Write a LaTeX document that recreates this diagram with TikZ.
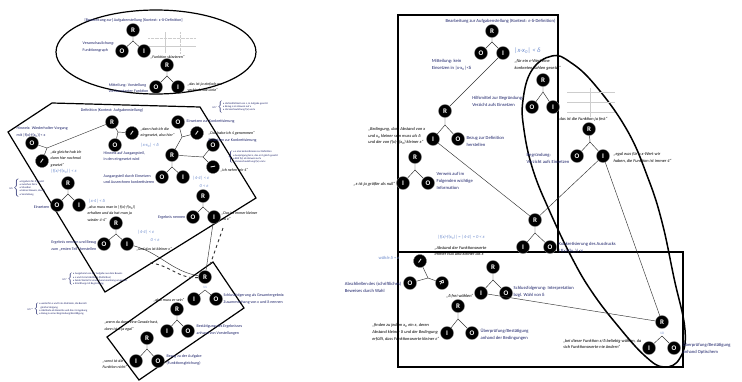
\documentclass[tikz,border=0pt]{standalone}
\usepackage{fontspec}
\setmainfont{Carlito}
\definecolor{navy}{RGB}{28,34,105}
\definecolor{hand}{RGB}{110,140,205}
\definecolor{faint}{RGB}{205,205,205}
\tikzset{
 cat/.style={circle, fill=black, draw=black!50, line width=0.3pt, inner sep=0pt, minimum size=13pt, text=white, font=\fontsize{7}{7}\selectfont\bfseries},
 conn/.style={draw=black!80, line width=0.45pt},
 frame/.style={draw=black, line width=1.5pt},
 lframe/.style={draw=black, line width=1.2pt},
 lab/.style={text=navy, font=\fontsize{4}{6.3}\selectfont, align=left, inner sep=0.5pt},
 labr/.style={text=navy, font=\fontsize{4.6}{7}\selectfont, align=left, inner sep=0.5pt},
 quo/.style={text=black, font=\fontsize{4}{6.3}\selectfont\itshape, align=left, inner sep=0.5pt},
 quor/.style={text=black, font=\fontsize{4.4}{6.8}\selectfont\itshape, align=left, inner sep=0.5pt},
 hw/.style={text=hand, font=\fontsize{4.5}{5.5}\selectfont\itshape, inner sep=0.5pt},
 minitext/.style={text=navy, font=\fontsize{2.6}{3.3}\selectfont, align=left, inner sep=0.3pt},
 num/.style={text=hand, font=\fontsize{3.5}{4}\selectfont, inner sep=0pt},
}
\begin{document}
\begin{tikzpicture}[x=1pt,y=-1pt]
\useasboundingbox (0,0) rectangle (742,381);
\fill[white] (0,0) rectangle (742,381);

% ---------- frames ----------
\draw[lframe] (156,52) ellipse [x radius=100, y radius=42];
\draw[lframe] (52,103) -- (200,107) -- (256,198) -- (105,292) -- (8,132) -- cycle;
\draw[lframe] (213,262) -- (244,308) -- (139,380) -- (107,337) -- cycle;
\draw[frame] (398,15) rectangle (558,252);
\draw[frame] (398,252) rectangle (683,367);
\draw[frame] plot[smooth cycle, tension=0.7] coordinates {(552,56) (570,62) (595,85) (627,130) (648,178) (662,222) (674,278) (685,330) (680,358) (664,367) (645,356) (618,326) (592,292) (572,258) (550,212) (533,170) (524,130) (523,100) (532,70)};

% ---------- faint graphs ----------
\begin{scope}[draw=faint, line width=0.3pt]
\draw (148,46) -- (196,46);
\draw (165,32) -- (165,53);
\draw[densely dotted] (148,38) -- (196,38);
\draw[densely dotted] (180,32) -- (180,53);
\draw (567,92) -- (615,92);
\draw (567,102) -- (615,102);
\draw (567,112) -- (615,112);
\draw (590,88) -- (590,117);
\end{scope}

% ---------- left trees ----------
\node[cat] (aR) at (133,30) {R};
\coordinate (aj) at (133,41);
\node[cat] (aO) at (122,51) {O};
\node[cat] (aI) at (144,51) {I};
\draw[conn] (aR) -- (aj) (aj) -- (aO) (aj) -- (aI);

\node[cat] (bR) at (167,65) {R};
\coordinate (bj) at (167,76);
\node[cat] (bO) at (156,87) {O};
\node[cat] (bI) at (178,87) {I};
\draw[conn] (bR) -- (bj) (bj) -- (bO) (bj) -- (bI);

\node[cat] (cR) at (112,122) {R};
\coordinate (cj) at (118,132);
\node[cat, rotate=-35] (cI) at (132,133) {I};
\node[cat] (cO) at (115,145) {O};
\draw[conn] (cR) -- (cj) (cj) -- (cI) (cj) -- (cO);
\coordinate (dj) at (47,148);
\node[cat] (dO) at (32,143) {O};
\node[cat, rotate=-35] (dI) at (42,161) {I};
\draw[conn] (cR) -- (dj) (dj) -- (dO) (dj) -- (dI);

\node[cat] (eO) at (178,122) {O};
\node[cat, rotate=-35] (eI) at (197,133) {I};
\coordinate (ej) at (182,137);
\node[cat] (eR) at (172,155) {R};
\draw[conn] (eR) -- (ej) (ej) -- (eO) (ej) -- (eI);
\coordinate (fj) at (203,157);
\node[cat] (fO) at (213,145) {O};
\node[cat, rotate=-80] (fI) at (213,167) {I};
\draw[conn] (eR) -- (fj) (fj) -- (fO) (fj) -- (fI);
\coordinate (gj) at (172,167);
\node[cat] (gO) at (162,177) {O};
\node[cat] (gI) at (183,177) {I};
\draw[conn] (eR) -- (gj) (gj) -- (gO) (gj) -- (gI);

\node[cat] (hR) at (68,183) {R};
\coordinate (hj) at (68,194);
\node[cat] (hO) at (57,205) {O};
\node[cat] (hI) at (79,205) {I};
\draw[conn] (hR) -- (hj) (hj) -- (hO) (hj) -- (hI);

\node[cat] (iR) at (116,223) {R};
\coordinate (ij) at (116,234);
\node[cat] (iO) at (104,244) {O};
\node[cat] (iI) at (127,244) {I};
\draw[conn] (iR) -- (ij) (ij) -- (iO) (ij) -- (iI);

\node[cat] (jR) at (203,196) {R};
\coordinate (jj) at (203,207);
\node[cat] (jO) at (193,217) {O};
\node[cat] (jI) at (214,217) {I};
\draw[conn] (jR) -- (jj) (jj) -- (jO) (jj) -- (jI);

\node[cat] (kR) at (205,277) {R};
\node[num] (kn) at (205,287) {11};
\coordinate (kj) at (205,290);
\node[cat] (kI) at (194,299) {I};
\node[cat] (kO) at (216,299) {O};
\draw[conn] (kj) -- (kI) (kj) -- (kO);

\node[cat] (lR) at (177,309) {R};
\coordinate (lj) at (177,320);
\node[cat] (lI) at (167,331) {I};
\node[cat] (lO) at (188,331) {O};
\draw[conn] (lR) -- (lj) (lj) -- (lI) (lj) -- (lO);

\node[cat] (mR) at (147,338) {R};
\coordinate (mj) at (147,349);
\node[cat] (mI) at (136,361) {I};
\node[cat] (mO) at (158,361) {O};
\draw[conn] (mR) -- (mj) (mj) -- (mI) (mj) -- (mO);

% left cross links
\draw[conn] (jI) -- (kR);
\coordinate (dA) at (223,228);
\coordinate (dB) at (210,265);
\draw[conn, dashed, line width=0.9pt] (dA) -- (dB);
\draw[conn] (iI) to[out=-15, in=170] (kR);
\coordinate (dC) at (150,263);
\draw[conn, dashed, line width=0.9pt] (dC) to[out=-5, in=185] (kR);

% ---------- right trees ----------
\node[cat] (pR) at (492,31) {R};
\coordinate (pj) at (492,42);
\node[cat] (pO) at (481,53) {O};
\node[cat] (pI) at (503,53) {I};
\draw[conn] (pR) -- (pj) (pj) -- (pO) (pj) -- (pI);

\node[cat] (qR) at (543,80) {R};
\coordinate (qj) at (543,92);
\node[cat] (qO) at (532,107) {O};
\node[cat] (qI) at (553,107) {I};
\draw[conn] (qR) -- (qj) (qj) -- (qO) (qj) -- (qI);

\node[cat] (rR) at (445,111) {R};
\coordinate (rj) at (445,125);
\node[cat] (rI) at (433,139) {I};
\node[cat] (rO) at (458,139) {O};
\draw[conn] (rR) -- (rj) (rj) -- (rI) (rj) -- (rO);

\node[cat] (sR) at (415,157) {R};
\coordinate (sj) at (415,170);
\node[cat] (sI) at (403,183) {I};
\node[cat] (sO) at (428,183) {O};
\draw[conn] (sR) -- (sj) (sj) -- (sI) (sj) -- (sO);

\node[cat] (tR) at (589,129) {R};
\coordinate (tj) at (590,142);
\node[cat] (tO) at (577,156) {O};
\node[cat] (tI) at (603,156) {I};
\draw[conn] (tR) -- (tj) (tj) -- (tO) (tj) -- (tI);

\node[cat] (uR) at (535,220) {R};
\coordinate (uj) at (535,233);
\node[cat] (uI) at (523,247) {I};
\node[cat] (uO) at (550,247) {O};
\draw[conn] (uR) -- (uj) (uj) -- (uI) (uj) -- (uO);

\node[cat, rotate=-35] (vI) at (420,261) {I};
\coordinate (vj) at (428,278);
\node[cat] (vO) at (410,283) {O};
\node[cat, rotate=-70] (vR) at (442,283) {R};
\draw[conn] (vj) -- (vI) (vj) -- (vO) (vj) -- (vR);

\node[cat] (wR) at (493,267) {R};
\coordinate (wj) at (493,280);
\node[cat] (wI) at (481,293) {I};
\node[cat] (wO) at (506,293) {O};
\draw[conn] (wR) -- (wj) (wj) -- (wI) (wj) -- (wO);

\node[cat] (xR) at (458,306) {R};
\coordinate (xj) at (458,319);
\node[cat] (xI) at (447,333) {I};
\node[cat] (xO) at (472,333) {O};
\draw[conn] (xR) -- (xj) (xj) -- (xI) (xj) -- (xO);

\node[cat] (yR) at (662,322) {R};
\node[num] (yn) at (662,333) {10};
\coordinate (yj) at (662,336);
\node[cat] (yI) at (649,348) {I};
\node[cat] (yO) at (674,348) {O};
\draw[conn] (yj) -- (yI) (yj) -- (yO);

% right cross links
\draw[conn] (pI) -- (rR);
\draw[conn] (rI) -- (uR);
\draw[conn] (tI) -- (uR);
\draw[conn] (wI) -- (yR);
\draw[conn] (tI) -- (yR);

% ---------- left texts ----------
\node[lab, anchor=west] (t1) at (84,20) {[Bearbeitung zur] Aufgabenstellung [Kontext: ε-δ-Definition]};
\node[lab, anchor=east] (t2) at (115,47) {Veranschaulichung:\\Funktionsgraph};
\node[quo, anchor=west] (t3) at (150,57) {„Funktion skizzieren“};
\node[lab, anchor=east] (t4) at (149,88) {Mitteilung: Vorstellung\\von konstanter Funktion};
\node[quo, anchor=west] (t5) at (187,87) {„das ist ja einfach nur\\verbindende Linie“};

\node[lab] (t6) at (112,110) {Definition (Kontext: Aufgabenstellung)};
\node[lab, anchor=west] (t7) at (16,132) {Hinweis: Wiederholter Vorgang\\mit |f(x)-f(x\textsubscript{0})|< ε};
\node[quo, anchor=north west] (t8) at (50,150) {„da gleiche hab ich\\dann hier nochmal\\gesetzt“};
\node[hw, anchor=west] (t9) at (50,171) {|f(x)-f(x\textsubscript{0})| < ε};
\node[quo, anchor=north west] (t10) at (140,127) {„dann hab ich die\\eingesetzt, also hier“};
\node[hw, anchor=west] (t11) at (140,145) {|x-x\textsubscript{0}| < δ};
\node[lab, anchor=north west] (t12) at (103,151) {Hinweis auf Ausgangsteil,\\in den eingesetzt wird};
\node[lab, anchor=west] (t13) at (186,121) {Einsetzen zur Konkretisierung};
\node[quo, anchor=west] (t14) at (208,133) {„Das habe ich 4 genommen“};
\node[lab, anchor=west] (t15) at (208,140) {Einsetzen zur Konkretisierung};
\node[minitext, anchor=west] (t16) at (227,157) {$\left\{\begin{tabular}{@{}l@{}}• ε also konkretisieren zur Definition\\• Ausprägung bei ε, das er δ gleich gesetzt\\• Bild f(x) als Hinweis auf x\\• Veranschaulichung f(x) und x\end{tabular}\right.$};
\node[quo, anchor=west] (t17) at (220,170) {„ich nehm mir 4“};
\node[lab, anchor=east] (t18) at (155,179) {Ausgangsteil durch Einsetzen\\und Ausrechnen konkretisieren};
\node[hw, anchor=west] (t19) at (192,178) {|4-4| < ε};
\node[hw, anchor=west] (t20) at (199,186) {0 < ε};
\node[minitext, anchor=west] (t21) at (9,188) {Ich\,$\left\{\begin{tabular}{@{}l@{}}• Ergebnis für δ gesetzt\\• zwischen Ziel x\\• Situation\\• kleiner Beweis, dass δ\\• Vorstellung\end{tabular}\right.$};
\node[lab, anchor=east] (t22) at (50,207) {Einsetzen};
\node[hw, anchor=west] (t23) at (88,201) {|x-4| < δ};
\node[quo, anchor=north west] (t24) at (87,205) {„also muss man in |f(x)-f(x\textsubscript{0})|\\erhalten und da hat man ja\\wieder 4-4“};
\node[lab, anchor=east] (t25) at (97,246) {Ergebnis nennen und Bezug\\zum „ersten Teil“ herstellen};
\node[hw, anchor=west] (t26) at (137,232) {|4-4| < ε};
\node[hw, anchor=west] (t27) at (150,240) {0 < ε};
\node[quo, anchor=west] (t28) at (136,249) {„und das ist kleiner ε“};
\node[lab, anchor=east] (t29) at (186,217) {Ergebnis nennen};
\node[quo, anchor=north west] (t30) at (221,211) {„Das ist immer kleiner\\als ε“};
\node[minitext, anchor=west] (t31) at (62,279) {Ich*\,$\left\{\begin{tabular}{@{}l@{}}• Ausgehend von der Aufgabe aus dem Beweis\\• ε und δ sind Abstände (Definition)\\• beide Werte für einen Zusammenhang umgesetzt\\• Ermittlung mit Begründung\end{tabular}\right.$};
\node[minitext, anchor=west] (t32) at (27,309) {Ich**\,$\left\{\begin{tabular}{@{}l@{}}• weiterhin ε und δ als Abstände, die Bereich\\\ \ gleiche Steigung\\• Abstände als Bereiche und die ε-Umgebung\\• Bezug zu einer Begründung/Bestätigung\end{tabular}\right.$};
\node[quo, anchor=east] (t33) at (185,300) {„also muss er sein“};
\node[lab, anchor=west] (t34) at (223,299) {Schlussfolgerung als Gesamtergebnis:\\Zusammenhang von ε und δ nennen};
\node[quo, anchor=east] (t35) at (159,326) {„wenn du dann eine Gerade hast,\\dann ist δ ja egal“};
\node[lab, anchor=west] (t36) at (196,330) {Bestätigung des Ergebnisses\\anhand von Vorstellungen};
\node[quo, anchor=east] (t37) at (128,364) {„sonst ist die\\Funktion nicht“};
\node[lab, anchor=west] (t38) at (166,360) {Bezug zu der Aufgabe\\(Funktionsgleichung)};
\node[minitext, anchor=west] (t39) at (212,107) {Ich*\,$\left\{\begin{tabular}{@{}l@{}}• Verbindlichkeit von ε, in Aufgabe gesetzt\\• Bezug ε als Hinweis auf x\\• Veranschaulichung f(x) und x\end{tabular}\right.$};

% ---------- right texts ----------
\node[labr, anchor=west] (u1) at (445,21) {Bearbeitung zur Aufgabenstellung (Kontext: ε-δ-Definition)};
\node[labr, anchor=east] (u2) at (472,65) {Mitteilung: kein\\Einsetzen in |x-x\textsubscript{0}|<δ};
\node[hw, anchor=west, font=\fontsize{6.5}{7}\selectfont\itshape] (u3) at (514,51) {|x-x\textsubscript{0}| < δ};
\node[quor, anchor=west] (u4) at (514,65) {„für ein ε-Wert eine\\konkreten Zahlen gesetzt“};
\node[labr, anchor=east] (u5) at (524,101) {Hilfsmittel zur Begründung:\\Verzicht aufs Einsetzen};
\node[quor, anchor=west] (u6) at (557,119) {„das ist die Funktion ja fest“};
\node[quor, anchor=east] (u7) at (426,136) {„Bedingung, dass Abstand von x\\und x\textsubscript{0} kleiner sein muss als δ\\und der von f(x)-f(x\textsubscript{0}) kleiner ε“};
\node[labr, anchor=west] (u8) at (466,141) {Bezug zur Definition\\herstellen};
\node[quor, anchor=east] (u9) at (396,184) {„ε ist ja größer als null“};
\node[labr, anchor=west] (u10) at (436,181) {Verweis auf im\\Folgenden wichtige\\Information};
\node[labr, anchor=east] (u11) at (570,158) {Begründung:\\Verzicht aufs Einsetzen};
\node[quor, anchor=west] (u12) at (613,158) {„egal was für’n x-Wert wir\\haben, die Funktion ist immer 4“};
\node[hw, anchor=west] (u13) at (437,237) {|f(x)-f(x\textsubscript{0})| = |4-4| = 0 < ε};
\node[quor, anchor=west] (u14) at (434,251) {„Abstand der Funktionswerte\\immer null und kleiner als ε“};
\node[labr, anchor=west] (u15) at (558,248) {Konkretisierung des Ausdrucks\\|f(x)-f(x\textsubscript{0})|<ε};
\node[labr, anchor=east] (u16) at (402,287) {Abschließen des (schriftliches)\\Beweises durch Wahl};
\node[hw, anchor=west] (u17) at (378,258) {wähle δ = ε};
\node[quor, anchor=east] (u18) at (474,296) {„δ frei wählen“};
\node[labr, anchor=west] (u19) at (513,292) {Schlussfolgerung: Interpretation\\bzgl. Wahl von δ};
\node[quor, anchor=east] (u20) at (440,332) {„finden zu jedem x\textsubscript{0} ein ε, deren\\Abstand kleiner δ und der Bedingung\\erfüllt, dass Funktionswerte kleiner ε“};
\node[labr, anchor=west] (u21) at (480,335) {Überprüfung/Bestätigung\\anhand der Bedingungen};
\node[quor, anchor=east] (u22) at (642,344) {„bei dieser Funktion ε/δ beliebig wählen, da\\sich Funktionswerte nie ändern“};
\node[labr, anchor=west] (u23) at (682,349) {Überprüfung/Bestätigung\\anhand Optischem};
\end{tikzpicture}
\end{document}
